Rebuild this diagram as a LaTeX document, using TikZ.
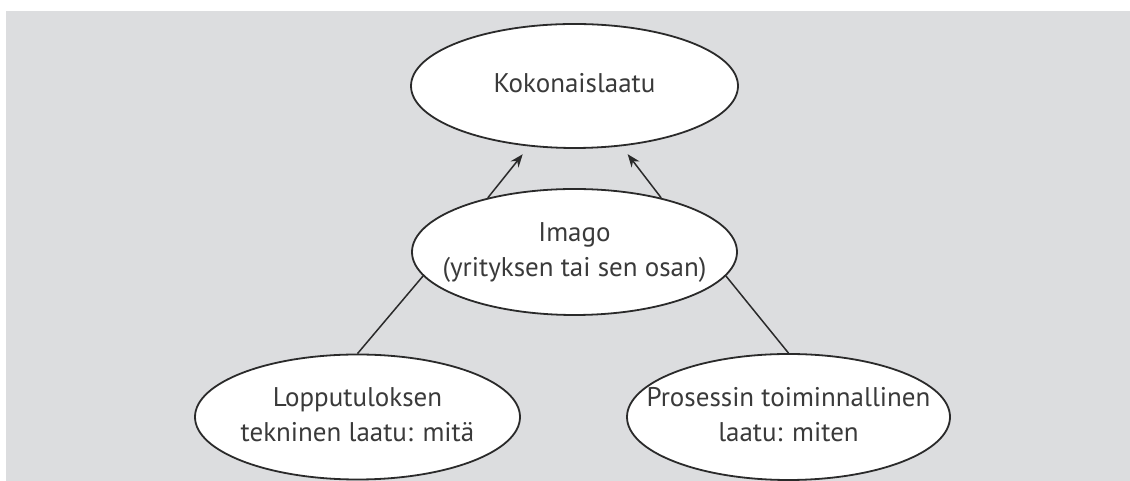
\documentclass[tikz,border=0pt]{standalone}
\usepackage{fontspec}
\setmainfont{PT Sans}
\usetikzlibrary{shapes.geometric,arrows.meta}
\definecolor{bggray}{HTML}{DCDDDF}
\definecolor{inkgray}{HTML}{3A3A3A}
\definecolor{linegray}{HTML}{2A2A2A}
\newcommand{\bubbletext}[1]{\makebox[0pt][c]{\begin{tabular}{@{}c@{}}#1\end{tabular}}}
\begin{document}
\begin{tikzpicture}[x=1pt,y=1pt,
  bubble/.style={ellipse, draw=linegray, line width=1.8pt, fill=white, inner sep=0pt,
    text=inkgray, font=\fontsize{27}{35}\selectfont},
  link/.style={draw=linegray, line width=1.5pt},
  arrowlink/.style={link, -{Stealth[length=13pt,width=10pt]}, shorten >=10pt}]
\useasboundingbox (0,0) rectangle (1130,481);
\fill[white] (0,0) rectangle (1130,481);
\fill[bggray] (6,0) rectangle (1130,470);
\node[bubble, minimum width=327pt, minimum height=124pt] (top) at (574.5,395) {\bubbletext{Kokonaislaatu}};
\node[bubble, minimum width=325pt, minimum height=126pt] (mid) at (574.5,229) {\bubbletext{Imago\\(yrityksen tai sen osan)}};
\node[bubble, minimum width=325pt, minimum height=125pt] (bl) at (357.5,64) {\bubbletext{Lopputuloksen\\tekninen laatu: mitä}};
\node[bubble, minimum width=323pt, minimum height=126pt] (br) at (788.5,64) {\bubbletext{Prosessin toiminnallinen\\laatu: miten}};
\draw[arrowlink] (mid.148) -- (top.233);
\draw[arrowlink] (mid.32) -- (top.308);
\draw[link] (mid.189) -- (bl.north);
\draw[link] (mid.351) -- (br.north);
\end{tikzpicture}
\end{document}
